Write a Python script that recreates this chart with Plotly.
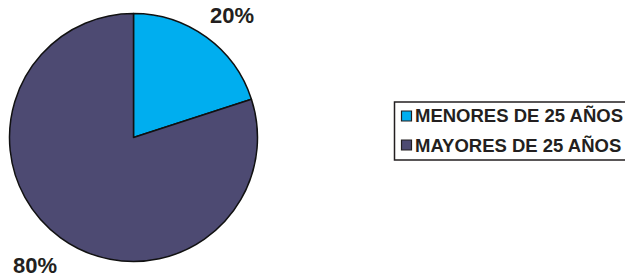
import math
import plotly.graph_objects as go

labels = ["MENORES DE 25 AÑOS", "MAYORES DE 25 AÑOS"]
values = [20, 80]
colors = ["#00AEEF", "#4D4A72"]

W, H = 625, 277
cx, cy, r = 133.5, 137.5, 124
INK = "#231F20"
FONT = "Liberation Sans, Arial"

fig = go.Figure(go.Pie(
    labels=labels, values=values, sort=False, direction="clockwise", rotation=0,
    marker=dict(colors=colors, line=dict(color="#111111", width=1.5)),
    textinfo="none", hoverinfo="label+percent", showlegend=False,
    domain=dict(x=[(cx - r) / W, (cx + r) / W], y=[1 - (cy + r) / H, 1 - (cy - r) / H]),
))

def px(x):
    return x / W

def py(y):
    return 1 - y / H

total = sum(values)
cum = 0
annotations = []
for v in values:
    mid = (cum + v / 2) / total * 2 * math.pi
    cum += v
    lx = cx + 168 * math.sin(mid)
    ly = cy - 155 * math.cos(mid) + 3
    annotations.append(dict(
        x=px(lx), y=py(ly), xref="paper", yref="paper", showarrow=False,
        text=f"{round(v / total * 100)}%",
        font=dict(family=FONT, size=22, color=INK, weight="bold"),
        xanchor="center", yanchor="middle",
    ))

# Legend box (drawn from the labels/colors lists)
shapes = [dict(type="rect", xref="paper", yref="paper",
               x0=px(394.5), x1=px(640), y0=py(102), y1=py(160),
               line=dict(color=INK, width=1.5), fillcolor="rgba(0,0,0,0)")]
row_y = [116, 145]
for lab, col, yy in zip(labels, colors, row_y):
    shapes.append(dict(type="rect", xref="paper", yref="paper",
                       x0=px(401.5), x1=px(411.5), y0=py(yy + 5), y1=py(yy - 5),
                       line=dict(color=INK, width=1.2), fillcolor=col))
    annotations.append(dict(
        x=px(413), y=py(yy), xref="paper", yref="paper", showarrow=False,
        text=lab, xanchor="left", yanchor="middle",
        font=dict(family=FONT, size=18.5, color=INK, weight="bold"),
    ))

fig.update_layout(
    width=W, height=H, margin=dict(l=0, r=0, t=0, b=0),
    paper_bgcolor="white", plot_bgcolor="white",
    annotations=annotations, shapes=shapes, showlegend=False,
)
fig.write_html("out.html", config={"displayModeBar": False},
               post_script="document.body.style.margin='0';")
